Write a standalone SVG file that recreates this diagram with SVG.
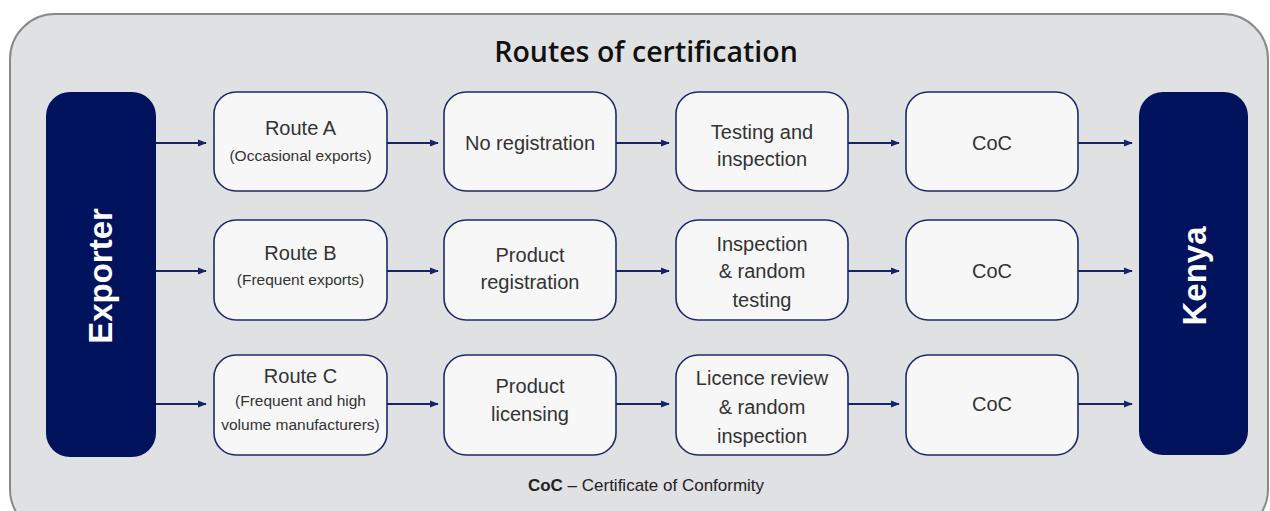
<svg xmlns="http://www.w3.org/2000/svg" width="1270" height="511" viewBox="0 0 1270 511">
<style>
.box{fill:#f7f7f7;stroke:#1c2a6b;stroke-width:1.6}
.end{fill:#00135c}
.t{font-family:"Liberation Sans",Arial,sans-serif;font-size:20px;fill:#333;text-anchor:middle}
.s{font-family:"Liberation Sans",Arial,sans-serif;font-size:15.5px;fill:#333;text-anchor:middle}
.w{font-family:"Liberation Sans",Arial,sans-serif;font-size:33px;font-weight:bold;fill:#fff;text-anchor:middle}
.c{stroke:#14246a;stroke-width:2;fill:none;marker-end:url(#ah)}
</style>
<defs>
<marker id="ah" viewBox="0 0 10 10" refX="9" refY="5" markerWidth="9" markerHeight="9" markerUnits="userSpaceOnUse" orient="auto">
<path d="M0,1 L10,5 L0,9 z" fill="#14246a"/>
</marker>
</defs>
<rect width="1270" height="511" fill="#ffffff"/>
<rect x="10" y="14" width="1258" height="520" rx="45" fill="#e0e1e3" stroke="#8a8a8a" stroke-width="2"/>
<text x="646" y="62" font-family="'Open Sans','Liberation Sans',sans-serif" font-size="28.5" font-weight="600" fill="#111" text-anchor="middle">Routes of certification</text>

<g id="exporter"><rect class="end" x="46" y="92" width="110" height="365" rx="24"/><text class="w" transform="translate(112,276) rotate(-90)">Exporter</text></g>
<g id="kenya"><rect class="end" x="1139" y="92" width="109" height="363" rx="24"/><text class="w" transform="translate(1206,276) rotate(-90)">Kenya</text></g>

<g id="routeA"><rect class="box" x="214" y="92" width="173" height="99" rx="22"/><text class="t" x="300.5" y="135">Route A</text><text class="s" x="300.5" y="161">(Occasional exports)</text></g>
<g id="routeB"><rect class="box" x="214" y="220" width="173" height="100" rx="22"/><text class="t" x="300.5" y="260">Route B</text><text class="s" x="300.5" y="285">(Frequent exports)</text></g>
<g id="routeC"><rect class="box" x="214" y="355" width="173" height="100" rx="22"/><text class="t" x="300.5" y="383">Route C</text><text class="s" x="300.5" y="406">(Frequent and high</text><text class="s" x="300.5" y="430">volume manufacturers)</text></g>

<g id="noreg"><rect class="box" x="444" y="92" width="172" height="99" rx="22"/><text class="t" x="530" y="150">No registration</text></g>
<g id="prodreg"><rect class="box" x="444" y="220" width="172" height="100" rx="22"/><text class="t" x="530" y="262">Product</text><text class="t" x="530" y="289">registration</text></g>
<g id="prodlic"><rect class="box" x="444" y="355" width="172" height="100" rx="22"/><text class="t" x="530" y="393">Product</text><text class="t" x="530" y="421">licensing</text></g>

<g id="testing"><rect class="box" x="676" y="92" width="172" height="99" rx="22"/><text class="t" x="762" y="139">Testing and</text><text class="t" x="762" y="166">inspection</text></g>
<g id="insp"><rect class="box" x="676" y="220" width="172" height="100" rx="22"/><text class="t" x="762" y="251">Inspection</text><text class="t" x="762" y="278">&amp; random</text><text class="t" x="762" y="307">testing</text></g>
<g id="licrev"><rect class="box" x="676" y="355" width="172" height="100" rx="22"/><text class="t" x="762" y="385">Licence review</text><text class="t" x="762" y="414">&amp; random</text><text class="t" x="762" y="443">inspection</text></g>

<g id="coc1"><rect class="box" x="906" y="92" width="172" height="99" rx="22"/><text class="t" x="992" y="150">CoC</text></g>
<g id="coc2"><rect class="box" x="906" y="220" width="172" height="100" rx="22"/><text class="t" x="992" y="278">CoC</text></g>
<g id="coc3"><rect class="box" x="906" y="355" width="172" height="100" rx="22"/><text class="t" x="992" y="411">CoC</text></g>

<g id="connectors">
<path class="c" d="M156,143 H206"/><path class="c" d="M387,143 H438"/><path class="c" d="M616,143 H669"/><path class="c" d="M848,143 H899"/><path class="c" d="M1078,143 H1132"/>
<path class="c" d="M156,271 H206"/><path class="c" d="M387,271 H438"/><path class="c" d="M616,271 H669"/><path class="c" d="M848,271 H899"/><path class="c" d="M1078,271 H1132"/>
<path class="c" d="M156,404 H206"/><path class="c" d="M387,404 H438"/><path class="c" d="M616,404 H669"/><path class="c" d="M848,404 H899"/><path class="c" d="M1078,404 H1132"/>
</g>
<text x="646" y="491" font-family="'Liberation Sans',Arial,sans-serif" font-size="17" fill="#222" text-anchor="middle"><tspan font-weight="bold">CoC</tspan> – Certificate of Conformity</text>
</svg>
